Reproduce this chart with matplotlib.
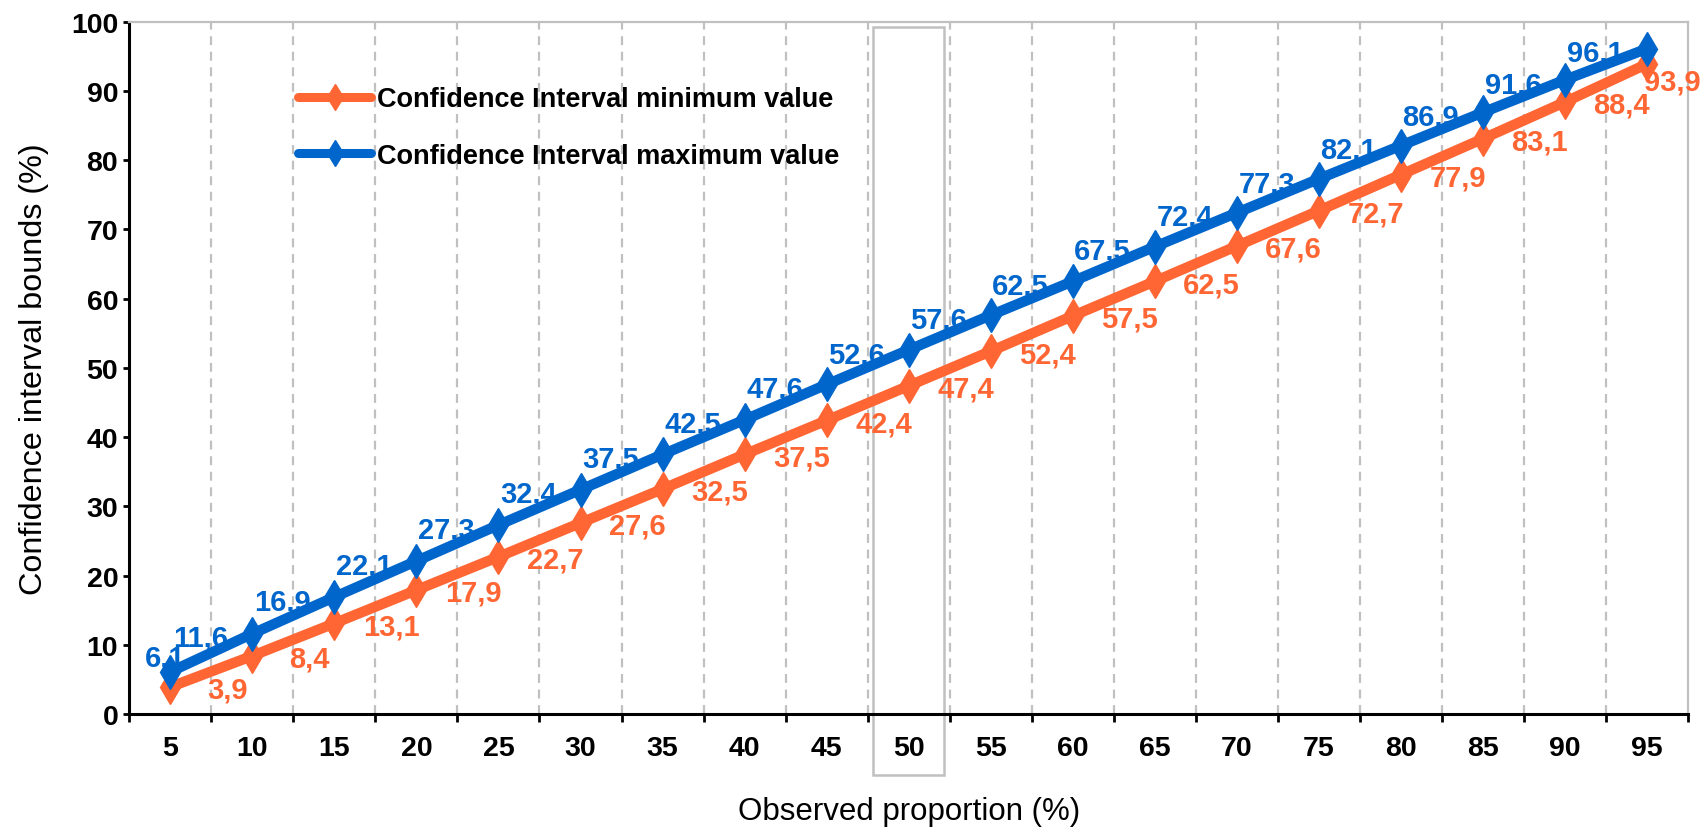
import matplotlib
matplotlib.use("Agg")
import matplotlib.pyplot as plt
from matplotlib.patches import Rectangle
from matplotlib.ticker import FixedLocator, NullFormatter

plt.rcParams['font.family'] = ['Liberation Sans', 'DejaVu Sans']

categories = [5, 10, 15, 20, 25, 30, 35, 40, 45, 50, 55, 60, 65, 70, 75, 80, 85, 90, 95]
ci_min = [3.9, 8.4, 13.1, 17.9, 22.7, 27.6, 32.5, 37.5, 42.4, 47.4, 52.4, 57.5, 62.5,
          67.6, 72.7, 77.9, 83.1, 88.4, 93.9]
ci_max = [6.1, 11.6, 16.9, 22.1, 27.3, 32.4, 37.5, 42.5, 47.6, 52.6, 57.6, 62.5, 67.5,
          72.4, 77.3, 82.1, 86.9, 91.6, 96.1]
series_names = ["Confidence Interval minimum value", "Confidence Interval maximum value"]
highlight_category = 50

ORANGE = "#FF6633"
BLUE = "#0066CC"

W, H = 1708, 829
fig = plt.figure(figsize=(W / 100, H / 100), dpi=100)
ax = fig.add_axes([129.3 / W, 1 - 715 / H, (1688 - 129.3) / W, (715 - 22.7) / H])

x = list(range(len(categories)))
l1, = ax.plot(x, ci_min, color=ORANGE, lw=7.5, marker='d', ms=17, mec=ORANGE, mfc=ORANGE,
              solid_capstyle='round', solid_joinstyle='round', zorder=3)
l2, = ax.plot(x, ci_max, color=BLUE, lw=7.5, marker='d', ms=17, mec=BLUE, mfc=BLUE,
              solid_capstyle='round', solid_joinstyle='round', zorder=4)

def fmt(v):
    return f"{v:.1f}".replace(".", ",")

n = len(categories)
LBL = 21
for i, v in enumerate(ci_min):
    off = (41, -2) if i < n - 1 else (18, -13)
    ax.annotate(fmt(v), (i, v), xytext=off, textcoords='offset points',
                ha='center', va='center', color=ORANGE, fontsize=LBL, fontweight='bold',
                zorder=5, annotation_clip=False)
for i, v in enumerate(ci_max):
    off = (-37.5, -3) if i > 0 else (-4, 10)
    ax.annotate(fmt(v), (i, v), xytext=off, textcoords='offset points',
                ha='center', va='center', color=BLUE, fontsize=LBL, fontweight='bold',
                zorder=5, annotation_clip=False)

ax.set_xlim(-0.5, n - 0.5)
ax.set_ylim(0, 100)
ax.set_yticks(range(0, 101, 10))
ax.set_xticks(x)
ax.set_xticklabels([str(c) for c in categories])
bounds = [i + 0.5 for i in range(-1, n)]
ax.xaxis.set_minor_locator(FixedLocator(bounds))
ax.xaxis.set_minor_formatter(NullFormatter())
ax.tick_params(axis='x', which='major', length=0, pad=15, labelsize=20.5)
ax.tick_params(axis='x', which='minor', length=6, width=2, direction='out', color='black')
ax.tick_params(axis='y', length=4.5, width=2, pad=3.5, labelsize=20.5)
for lab in ax.get_xticklabels() + ax.get_yticklabels():
    lab.set_fontweight('bold')

for b in bounds[1:-1]:
    ax.axvline(b, color='#C0C0C0', lw=1.6, ls=(0, (4, 3)), zorder=1)

for s in ['left', 'bottom']:
    ax.spines[s].set_color('black')
    ax.spines[s].set_linewidth(2.2)
for s in ['top', 'right']:
    ax.spines[s].set_color('#C0C0C0')
    ax.spines[s].set_linewidth(1.6)

hi = categories.index(highlight_category)
rect = Rectangle((hi - 0.44, -0.0877), 0.87, 0.993 + 0.0877, transform=ax.get_xaxis_transform(),
                 fill=False, edgecolor='#C0C0C0', lw=1.8, clip_on=False, zorder=2)
ax.add_patch(rect)

ax.set_xlabel("Observed proportion (%)", fontsize=22.5, labelpad=25)
ax.set_ylabel("Confidence interval bounds (%)", fontsize=23.3, labelpad=16)

leg = fig.legend([l1, l2], series_names, loc='upper left',
                 bbox_to_anchor=(298 / W, 1 - 87 / H), frameon=False,
                 prop={'size': 19.5, 'weight': 'bold'}, handlelength=2.7, handletextpad=0.2,
                 labelspacing=1.13, borderpad=0, borderaxespad=0, markerscale=0.75)
for lh in leg.get_lines():
    lh.set_linewidth(6.5)

fig.savefig("out.png", dpi=100)
